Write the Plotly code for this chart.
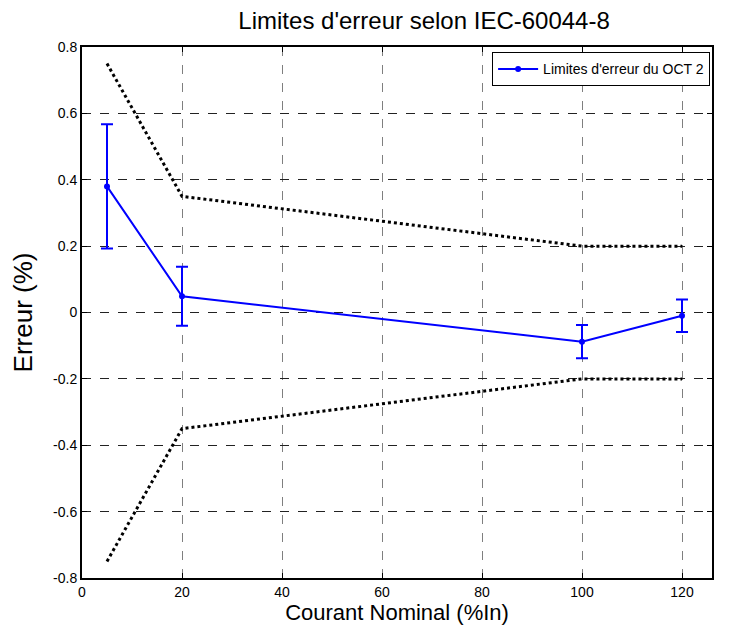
import plotly.graph_objects as go

# Data
courant = [5, 20, 100, 120]
erreur_oct2 = [0.38, 0.049, -0.088, -0.010]
incertitude = [0.187, 0.089, 0.050, 0.049]
limite_sup = [0.75, 0.35, 0.2, 0.2]
limite_inf = [-0.75, -0.35, -0.2, -0.2]
x_ticks = [0, 20, 40, 60, 80, 100, 120]
y_ticks = [-0.8, -0.6, -0.4, -0.2, 0, 0.2, 0.4, 0.6, 0.8]
y_tick_labels = ["-0.8", "-0.6", "-0.4", "-0.2", "0", "0.2", "0.4", "0.6", "0.8"]

FONT = "Liberation Sans, Arial, sans-serif"

fig = go.Figure()

fig.add_trace(go.Scatter(
    x=courant, y=limite_sup, mode="lines",
    line=dict(color="black", width=3, dash="dot"),
    showlegend=False, hoverinfo="skip"))
fig.add_trace(go.Scatter(
    x=courant, y=limite_inf, mode="lines",
    line=dict(color="black", width=3, dash="dot"),
    showlegend=False, hoverinfo="skip"))
fig.add_trace(go.Scatter(
    x=courant, y=erreur_oct2, mode="lines+markers",
    name="Limites d'erreur du OCT 2",
    line=dict(color="#0000ff", width=2),
    marker=dict(color="#0000ff", size=6),
    error_y=dict(type="data", array=incertitude, visible=True,
                 color="#0000ff", thickness=2, width=6)))

axis_common = dict(
    showline=True, linecolor="black", linewidth=2, mirror="ticks",
    ticks="inside", ticklen=5, tickcolor="black",
    showgrid=True, griddash="dash", gridwidth=1,
    zeroline=False,
    tickfont=dict(family=FONT, size=14, color="black"),
)

fig.update_xaxes(range=[0, 126], tickvals=x_ticks, gridcolor="#7f7f7f",
                 title=dict(text="Courant Nominal (%In)",
                            font=dict(family=FONT, size=22, color="black"),
                            standoff=0),
                 **axis_common)
fig.update_yaxes(range=[-0.8, 0.8], tickvals=y_ticks, ticktext=y_tick_labels,
                 gridcolor="#222222",
                 title=dict(text="Erreur (%)",
                            font=dict(family=FONT, size=26, color="black"),
                            standoff=15),
                 **axis_common)

fig.update_layout(
    width=729, height=626,
    paper_bgcolor="white", plot_bgcolor="white",
    margin=dict(l=70, r=25, t=39, b=56),
    title=dict(text="Limites d'erreur selon IEC-60044-8",
               x=0.543, xanchor="center", xref="paper",
               y=0.993, yanchor="top",
               font=dict(family=FONT, size=24, color="black")),
    legend=dict(x=0.997, y=0.99, xanchor="right", yanchor="top",
                bordercolor="black", borderwidth=1, bgcolor="white",
                font=dict(family=FONT, size=14, color="black"),
                itemwidth=40, tracegroupgap=0),
    showlegend=True,
)

fig.write_html("out.html")
